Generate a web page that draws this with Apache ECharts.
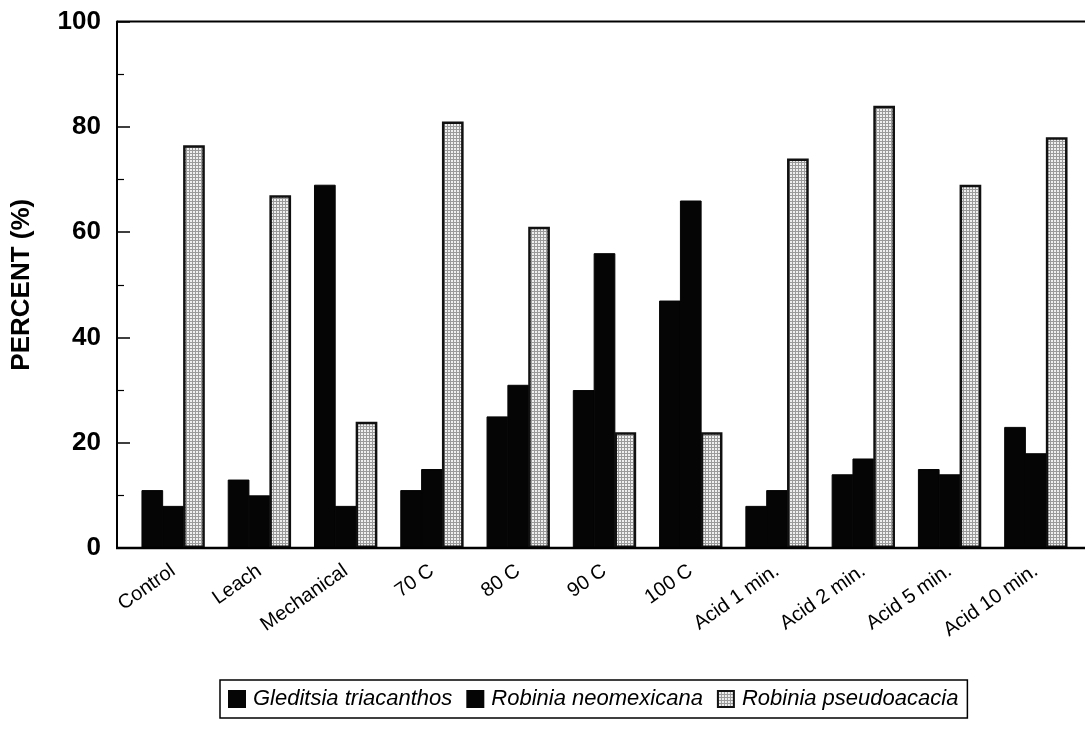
<!DOCTYPE html>
<html>
<head>
<meta charset="utf-8">
<script src="https://cdn.jsdelivr.net/npm/echarts@6/dist/echarts.min.js"></script>
<style>
  html, body { margin: 0; padding: 0; background: #fff; }
  #chart { width: 1085px; height: 741px; }
</style>
</head>
<body>
<div id="chart"></div>
<script>
// Treatments on the x axis
const categories = ['Control', 'Leach', 'Mechanical', '70 C', '80 C', '90 C', '100 C',
  'Acid 1 min.', 'Acid 2 min.', 'Acid 5 min.', 'Acid 10 min.'];
// Percent values per species
const gleditsia = [11, 13, 69, 11, 25, 30, 47, 8, 14, 15, 23];
const neomexicana = [8, 10, 8, 15, 31, 56, 66, 11, 17, 14, 18];
const pseudoacacia = [76.5, 67, 24, 81, 61, 22, 22, 74, 84, 69, 78];
const seriesNames = ['Gleditsia triacanthos', 'Robinia neomexicana', 'Robinia pseudoacacia'];
// Y scale
const yMin = 0, yMax = 100, yStep = 20;

const FONT = "'Liberation Sans', Arial, Helvetica, sans-serif";

// Layout (pixels)
const FRAME_LEFT = 117, FRAME_RIGHT = 1085, PLOT_TOP = 21.5, PLOT_BOTTOM = 548;
const GRID_LEFT = 130, GRID_RIGHT_EDGE = 1079;

// Fine screen-tone fill for the light bars
function screenTone() {
  const c = document.createElement('canvas');
  c.width = 3; c.height = 3;
  const g = c.getContext('2d');
  g.fillStyle = '#efefef';
  g.fillRect(0, 0, 3, 3);
  g.fillStyle = '#9a9a9a';
  g.fillRect(0, 0, 3, 1);
  g.fillRect(0, 0, 1, 3);
  return c;
}

const chart = echarts.init(document.getElementById('chart'), null, { renderer: 'canvas' });

// Bars in a group touch; a slight overlap keeps the two dark bars visually joined
const barCommon = { type: 'bar', barWidth: 21.7, barGap: '-4%' };
const solidBlack = { color: '#050505', borderColor: '#050505', borderWidth: 1 };

chart.setOption({
  animation: false,
  backgroundColor: '#ffffff',
  textStyle: { fontFamily: FONT },
  grid: {
    left: GRID_LEFT,
    right: 1085 - GRID_RIGHT_EDGE,
    top: PLOT_TOP,
    bottom: 741 - PLOT_BOTTOM,
    containLabel: false
  },
  legend: {
    data: seriesNames,
    left: 220,
    top: 680,
    orient: 'horizontal',
    icon: 'rect',
    itemWidth: 16,
    itemHeight: 16,
    itemGap: 14,
    padding: [8, 9, 8, 8],
    borderColor: '#000',
    borderWidth: 1.5,
    borderRadius: 0,
    textStyle: {
      fontFamily: FONT,
      fontStyle: 'italic',
      fontSize: 22,
      color: '#000',
      padding: [0, 0, 0, 3]
    }
  },
  xAxis: {
    type: 'category',
    data: categories,
    axisLine: { show: false },
    axisTick: { show: false },
    axisLabel: {
      interval: 0,
      rotate: 35,
      margin: 21,
      fontFamily: FONT,
      fontSize: 20,
      color: '#000'
    },
    splitLine: { show: false }
  },
  yAxis: {
    type: 'value',
    min: yMin,
    max: yMax,
    interval: yStep,
    offset: GRID_LEFT - FRAME_LEFT,
    name: 'PERCENT (%)',
    nameLocation: 'middle',
    nameRotate: 90,
    nameGap: 82,
    nameTextStyle: { fontFamily: FONT, fontWeight: 'bold', fontSize: 26, color: '#000' },
    axisLine: { show: true, lineStyle: { color: '#000', width: 2 } },
    axisTick: { show: true, inside: true, length: 13, lineStyle: { color: '#000', width: 1.5 } },
    minorTick: { show: true, splitNumber: 2, length: 7, lineStyle: { color: '#000', width: 1.2 } },
    axisLabel: { margin: 16, fontFamily: FONT, fontWeight: 'bold', fontSize: 26, color: '#000' },
    splitLine: { show: false }
  },
  graphic: [
    { type: 'line', z: 10, shape: { x1: FRAME_LEFT, y1: PLOT_TOP, x2: FRAME_RIGHT, y2: PLOT_TOP },
      style: { stroke: '#000', lineWidth: 2 } },
    { type: 'line', z: 10, shape: { x1: FRAME_LEFT - 1, y1: PLOT_BOTTOM, x2: FRAME_RIGHT, y2: PLOT_BOTTOM },
      style: { stroke: '#000', lineWidth: 2.5 } }
  ],
  series: [
    Object.assign({}, barCommon, {
      name: seriesNames[0],
      data: gleditsia,
      itemStyle: solidBlack
    }),
    Object.assign({}, barCommon, {
      name: seriesNames[1],
      data: neomexicana,
      itemStyle: solidBlack
    }),
    Object.assign({}, barCommon, {
      name: seriesNames[2],
      data: pseudoacacia,
      itemStyle: {
        color: { image: screenTone(), repeat: 'repeat' },
        borderColor: '#111',
        borderWidth: 2.5
      }
    })
  ]
});
</script>
</body>
</html>
